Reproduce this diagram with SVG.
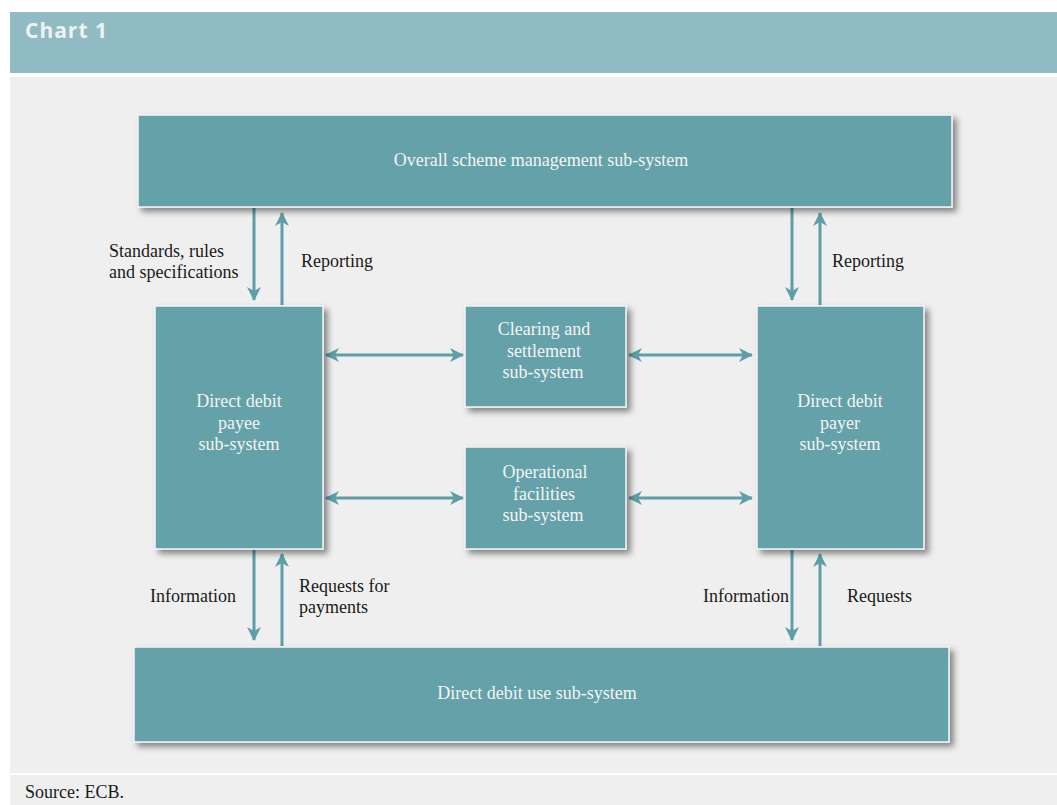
<svg xmlns="http://www.w3.org/2000/svg" width="1057" height="805" viewBox="0 0 1057 805">
<style>
.box{fill:#65a1a9;stroke:#f4f4f4;stroke-width:1.5;filter:url(#sh)}
.nt{font-family:"Liberation Serif","Times New Roman",serif;font-size:18px;fill:#f4f4f4;text-anchor:middle}
.lb{font-family:"Liberation Serif","Times New Roman",serif;font-size:18px;fill:#1a1a1a}
.ar{stroke:#5e9ea7;stroke-width:3;fill:none}
</style>
<defs>
<filter id="sh" x="-10%" y="-10%" width="130%" height="140%">
<feDropShadow dx="4" dy="4" stdDeviation="3" flood-color="#000" flood-opacity="0.45"/>
</filter>
<marker id="ah" viewBox="0 0 14 14" refX="13" refY="7" markerWidth="14" markerHeight="14" markerUnits="userSpaceOnUse" orient="auto-start-reverse">
<path d="M0,0 L14,7 L0,14 L4,7 Z" fill="#5e9ea7"/>
</marker>
</defs>
<rect x="0" y="0" width="1057" height="805" fill="#ffffff"/>
<rect x="10" y="12" width="1047" height="61" fill="#91bbc3"/>
<text x="25" y="38" font-family="'Open Sans','Liberation Sans',sans-serif" font-weight="bold" font-size="21" fill="#eef2f3" letter-spacing="1">Chart 1</text>
<rect x="10" y="77" width="1047" height="696" fill="#efefef"/>
<rect x="10" y="775" width="1047" height="30" fill="#efefef"/>
<text x="25" y="798" class="lb">Source: ECB.</text>

<g id="connectors">
<line class="ar" x1="254" y1="208" x2="254" y2="300" marker-end="url(#ah)"/>
<line class="ar" x1="282" y1="305" x2="282" y2="213" marker-end="url(#ah)"/>
<line class="ar" x1="792" y1="208" x2="792" y2="300" marker-end="url(#ah)"/>
<line class="ar" x1="820" y1="305" x2="820" y2="213" marker-end="url(#ah)"/>
<line class="ar" x1="326" y1="355" x2="463" y2="355" marker-start="url(#ah)" marker-end="url(#ah)"/>
<line class="ar" x1="629" y1="355" x2="752" y2="355" marker-start="url(#ah)" marker-end="url(#ah)"/>
<line class="ar" x1="326" y1="498" x2="463" y2="498" marker-start="url(#ah)" marker-end="url(#ah)"/>
<line class="ar" x1="629" y1="498" x2="752" y2="498" marker-start="url(#ah)" marker-end="url(#ah)"/>
<line class="ar" x1="254" y1="550" x2="254" y2="640" marker-end="url(#ah)"/>
<line class="ar" x1="282" y1="646" x2="282" y2="554" marker-end="url(#ah)"/>
<line class="ar" x1="792" y1="550" x2="792" y2="640" marker-end="url(#ah)"/>
<line class="ar" x1="820" y1="646" x2="820" y2="554" marker-end="url(#ah)"/>
<text class="lb" x="109" y="257">Standards, rules</text>
<text class="lb" x="109" y="278">and specifications</text>
<text class="lb" x="301" y="267">Reporting</text>
<text class="lb" x="832" y="267">Reporting</text>
<text class="lb" x="150" y="602">Information</text>
<text class="lb" x="299" y="592">Requests for</text>
<text class="lb" x="299" y="613">payments</text>
<text class="lb" x="703" y="602">Information</text>
<text class="lb" x="847" y="602">Requests</text>
</g>

<g id="overall">
<rect class="box" x="138" y="115" width="814" height="92"/>
<text class="nt" x="541" y="166">Overall scheme management sub-system</text>
</g>
<g id="payee">
<rect class="box" x="155" y="306" width="168" height="243"/>
<text class="nt" x="239" y="407">Direct debit</text>
<text class="nt" x="239" y="429">payee</text>
<text class="nt" x="239" y="450">sub-system</text>
</g>
<g id="clearing">
<rect class="box" x="465" y="306" width="161" height="101"/>
<text class="nt" x="544" y="335">Clearing and</text>
<text class="nt" x="544" y="357">settlement</text>
<text class="nt" x="543" y="378">sub-system</text>
</g>
<g id="operational">
<rect class="box" x="465" y="447" width="161" height="102"/>
<text class="nt" x="545" y="478">Operational</text>
<text class="nt" x="544" y="500">facilities</text>
<text class="nt" x="543" y="521">sub-system</text>
</g>
<g id="payer">
<rect class="box" x="757" y="306" width="167" height="243"/>
<text class="nt" x="840" y="407">Direct debit</text>
<text class="nt" x="840" y="429">payer</text>
<text class="nt" x="840" y="450">sub-system</text>
</g>
<g id="use">
<rect class="box" x="134" y="647" width="815" height="95"/>
<text class="nt" x="537" y="699">Direct debit use sub-system</text>
</g>
</svg>
